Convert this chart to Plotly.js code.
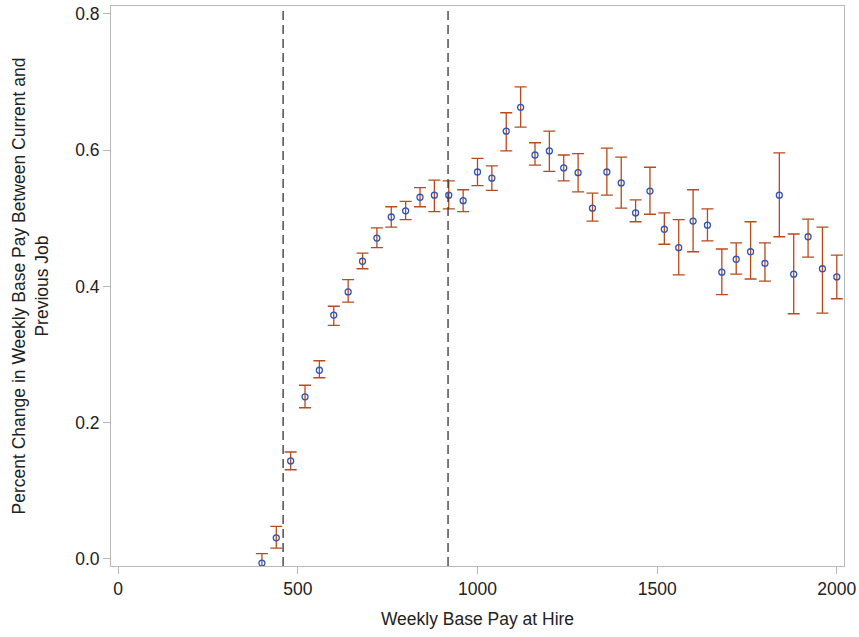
<!DOCTYPE html>
<html><head><meta charset="utf-8">
<script src="https://cdn.plot.ly/plotly-3.0.1.min.js"></script>
<style>html,body{margin:0;padding:0;background:#fff}</style>
</head><body>
<div id="chart" style="width:859px;height:637px"></div>
<script>
var pay = [400,440,480,520,560,600,640,680,720,760,800,840,880,920,960,1000,1040,1080,1120,1160,1200,1240,1280,1320,1360,1400,1440,1480,1520,1560,1600,1640,1680,1720,1760,1800,1840,1880,1920,1960,2000];
var pctChange = [-0.006,0.031,0.144,0.238,0.277,0.358,0.392,0.437,0.471,0.502,0.511,0.531,0.534,0.534,0.526,0.568,0.559,0.628,0.663,0.593,0.599,0.574,0.567,0.515,0.568,0.552,0.508,0.540,0.484,0.457,0.496,0.490,0.421,0.440,0.451,0.434,0.534,0.418,0.473,0.426,0.414];
var upperCI = [0.008,0.048,0.157,0.255,0.291,0.371,0.410,0.449,0.486,0.517,0.525,0.545,0.556,0.555,0.542,0.588,0.577,0.655,0.693,0.611,0.628,0.593,0.595,0.537,0.603,0.590,0.527,0.575,0.508,0.498,0.542,0.514,0.455,0.464,0.495,0.464,0.596,0.477,0.499,0.487,0.446];
var lowerCI = [-0.020,0.016,0.131,0.222,0.266,0.343,0.377,0.426,0.457,0.487,0.498,0.517,0.510,0.514,0.510,0.548,0.541,0.599,0.634,0.578,0.569,0.555,0.539,0.496,0.534,0.515,0.495,0.506,0.462,0.417,0.451,0.467,0.388,0.418,0.411,0.408,0.473,0.360,0.443,0.361,0.382];
var cutoffs = [459, 918];
var xTicks = [0,500,1000,1500,2000];
var yTicks = [0.0,0.2,0.4,0.6,0.8];

var errPlus = pctChange.map(function(v,i){return upperCI[i]-v;});
var errMinus = pctChange.map(function(v,i){return v-lowerCI[i];});

var trace = {
  x: pay, y: pctChange, type: 'scatter', mode: 'markers',
  marker: {symbol: 'circle-open', size: 6, color: '#2b55b8', line: {width: 1.3, color: '#2b55b8'}},
  error_y: {type: 'data', symmetric: false, array: errPlus, arrayminus: errMinus,
            color: '#b84a1c', thickness: 1.3, width: 6},
  hoverinfo: 'x+y', showlegend: false
};

var shapes = cutoffs.map(function(c){
  return {type:'line', xref:'x', yref:'paper', x0:c, x1:c, y0:0, y1:1,
          line:{color:'#333', width:1.3, dash:'9px,5px'}};
});

var font = {family: '"Liberation Sans", Arial, sans-serif', size: 17.5, color: '#222'};
var layout = {
  width: 859, height: 637,
  margin: {l: 111, r: 15, t: 6, b: 71},
  paper_bgcolor: '#fff', plot_bgcolor: '#fff',
  font: font,
  showlegend: false,
  shapes: shapes,
  xaxis: {
    range: [-20, 2020], tickvals: xTicks, ticktext: xTicks.map(String),
    showgrid: false, zeroline: false, showline: true, linecolor: '#b8b8b8', linewidth: 1, mirror: true,
    ticks: 'outside', ticklen: 7, tickcolor: '#b8b8b8', tickfont: font,
    title: {text: 'Weekly Base Pay at Hire', font: font, standoff: 14}
  },
  yaxis: {
    range: [-0.0103, 0.8117], tickvals: yTicks, ticktext: yTicks.map(function(v){return v.toFixed(1);}),
    showgrid: false, zeroline: false, showline: true, linecolor: '#b8b8b8', linewidth: 1, mirror: true,
    ticks: 'outside', ticklen: 7, tickcolor: '#b8b8b8', tickfont: font,
    title: {text: 'Percent Change in Weekly Base Pay Between Current and<br>Previous Job', font: font, standoff: 22}
  }
};
Plotly.newPlot('chart', [trace], layout, {displayModeBar: false, staticPlot: true});
</script>
</body></html>
